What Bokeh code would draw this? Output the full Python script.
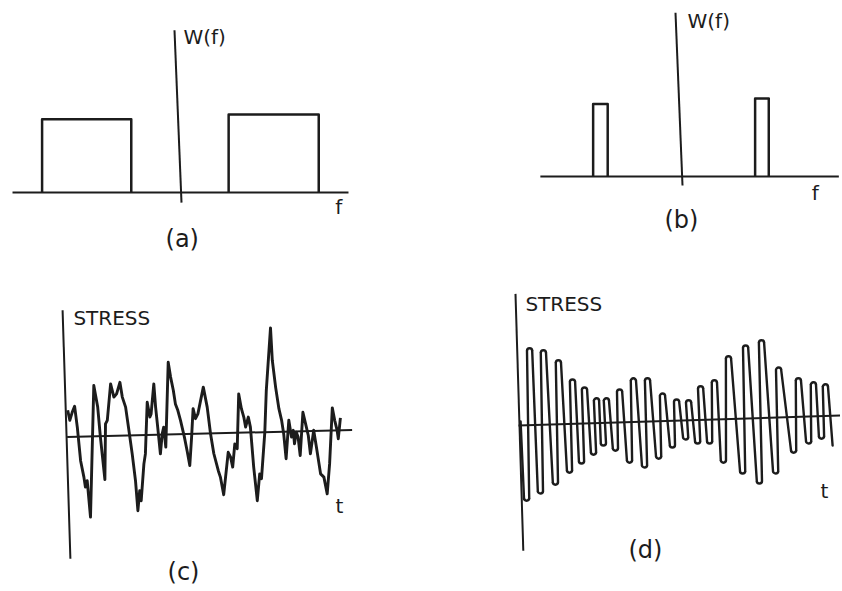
import math
from bokeh.plotting import figure
from bokeh.layouts import column, row
from bokeh.models import Range1d
from bokeh.core.properties import value
from bokeh.embed import file_html
from bokeh.resources import INLINE

# ---------------- data ----------------
# (a) wide-band spectrum W(f): band edges and level
a_band_lo = [-1.51, 0.54]
a_band_hi = [-0.53, 1.53]
a_band_level = [0.94, 1.00]

# (b) narrow-band spectrum W(f)
b_band_lo = [-0.96, 0.82]
b_band_hi = [-0.80, 0.97]
b_band_level = [0.93, 1.00]

# (c) wide-band stress history (traced)
c_t = [0.04, 0.11, 0.19, 0.27, 0.36, 0.47, 0.58, 0.63, 0.69, 0.80,
       0.91, 1.04, 1.13, 1.28, 1.30, 1.36, 1.47, 1.58, 1.67, 1.78,
       1.86, 1.97, 2.08, 2.19, 2.30, 2.38, 2.44, 2.49, 2.58, 2.63,
       2.69, 2.78, 2.82, 2.91, 2.97, 3.04, 3.13, 3.19, 3.24, 3.31,
       3.39, 3.47, 3.56, 3.63, 3.71, 3.80, 3.93, 4.02, 4.11, 4.17,
       4.22, 4.30, 4.38, 4.56, 4.69, 4.80, 4.91, 5.06, 5.13, 5.24,
       5.39, 5.47, 5.54, 5.61, 5.69, 5.74, 5.83, 5.91, 5.97, 6.06,
       6.13, 6.24, 6.36, 6.44, 6.50, 6.61, 6.66, 6.80, 6.86, 6.97,
       7.08, 7.17, 7.24, 7.32, 7.41, 7.50, 7.56, 7.60, 7.66, 7.72,
       7.79, 7.88, 7.97, 8.06, 8.13, 8.24, 8.33, 8.47, 8.58, 8.69,
       8.77, 8.86, 8.94, 9.02, 9.06, 9.13]
c_stress = [0.58, 0.33, 0.53, 0.68, 0.16, -0.68, -1.09, -1.34, -1.18, -2.09,
            1.20, 0.66, -0.09, -1.15, 0.24, 0.33, 1.24, 0.91, 0.99, 1.28,
            0.91, 0.66, 0.08, -0.51, -1.18, -1.93, -1.43, -1.68, -0.76, -0.51,
            0.78, 0.41, 0.49, 1.24, 0.66, 0.16, -0.51, -0.01, 0.16, -0.34,
            1.78, 1.41, 1.08, 0.74, 0.58, 0.33, -0.09, -0.43, -0.80, -0.09,
            0.62, 0.37, 0.49, 1.16, 0.66, 0.00, -0.50, -0.93, -1.09, -1.53,
            -0.47, -0.59, -0.84, -0.26, -0.38, 0.99, 0.62, 0.41, 0.16, 0.41,
            0.16, -0.84, -1.68, -1.01, -1.13, 0.03, 1.08, 2.64, 1.83, 1.16,
            0.62, 0.33, -0.01, -0.63, 0.33, -0.09, 0.08, -0.26, 0.03, -0.09,
            -0.55, 0.53, 0.24, -0.05, -0.51, 0.08, -0.34, -1.01, -1.09, -1.51,
            -0.76, 0.64, 0.33, 0.08, -0.13, 0.39]

# (d) narrow-band stress history: start, successive extremes (troughs / peaks), end
d_t = [0.07, 0.27, 0.37, 0.73, 0.83, 1.23, 1.33, 1.70, 1.80, 2.10, 2.20,
       2.50, 2.60, 2.83, 2.93, 3.23, 3.37, 3.70, 3.83, 4.20, 4.30,
       4.67, 4.80, 5.13, 5.27, 5.57, 5.67, 5.97, 6.07, 6.37, 6.53,
       6.83, 7.00, 7.47, 7.57, 8.03, 8.10, 8.57, 8.67, 9.17, 9.33,
       9.67, 9.83, 10.10, 10.23, 10.47]
d_stress = [0.00, -1.98, 1.83, -1.80, 1.78, -1.58, 1.53, -1.28, 1.05, -1.05, 0.85,
            -0.83, 0.58, -0.60, 0.58, -0.73, 0.80, -1.03, 1.08, -1.15, 1.08,
            -0.93, 0.70, -0.65, 0.55, -0.45, 0.53, -0.55, 0.88, -0.55, 1.03,
            -1.03, 1.63, -1.30, 1.90, -1.55, 2.03, -1.30, 1.35, -0.78, 1.08,
            -0.55, 0.98, -0.43, 0.93, -0.60]

panel_labels = ["(a)", "(b)", "(c)", "(d)"]

# ---------------- style ----------------
INK = "#1c1c1c"
FONT = value("DejaVu Sans")


def panel(left, top, w, h, ox, oy, sx, sy):
    """Figure whose data origin sits at page pixel (ox, oy) with sx, sy px per unit."""
    x0 = (left - ox) / sx
    x1 = (left + w - ox) / sx
    y0 = (oy - (top + h)) / sy
    y1 = (oy - top) / sy
    p = figure(width=w, height=h, x_range=Range1d(x0, x1), y_range=Range1d(y0, y1),
               output_backend="svg", toolbar_location=None,
               x_axis_location=None, y_axis_location=None,
               min_border=0, outline_line_color=None,
               background_fill_color="white", border_fill_color="white")
    p.grid.grid_line_color = None
    p.title.visible = False
    return p


def label(p, x, y, txt, size, align="center"):
    p.text(x=[x], y=[y], text=[txt], text_font=FONT, text_font_size=size,
           text_align=align, text_baseline="middle", text_color=INK)


TOP_H = 265
BOT_H = 324
COL_W = 420

# ---------------- (a) ----------------
pa = panel(0, 0, COL_W, TOP_H, 179, 192, 91, 78)
pa.segment(x0=[-1.835], y0=[0], x1=[1.857], y1=[0], line_color=INK, line_width=2)
pa.segment(x0=[-0.055], y0=[2.08], x1=[0.022], y1=[-0.13], line_color=INK, line_width=2)
pa.multi_line(xs=[[lo, lo, hi, hi] for lo, hi in zip(a_band_lo, a_band_hi)],
              ys=[[0, v, v, 0] for v in a_band_level],
              line_color=INK, line_width=2.5, line_join="round")
label(pa, 0.044, 2.0, "W(f)", "20px", "left")
label(pa, 1.75, -0.19, "f", "20px")
label(pa, 0.03, -0.59, panel_labels[0], "24px")

# ---------------- (b) ----------------
pb = panel(COL_W, 0, COL_W, TOP_H, 680, 176, 91, 78)
pb.segment(x0=[-1.54], y0=[0], x1=[1.74], y1=[0], line_color=INK, line_width=2)
pb.segment(x0=[-0.055], y0=[2.10], x1=[0.022], y1=[-0.115], line_color=INK, line_width=2)
pb.multi_line(xs=[[lo, lo, hi, hi] for lo, hi in zip(b_band_lo, b_band_hi)],
              ys=[[0, v, v, 0] for v in b_band_level],
              line_color=INK, line_width=2.5, line_join="round")
label(pb, 0.077, 1.99, "W(f)", "20px", "left")
label(pb, 1.48, -0.21, "f", "20px")
label(pb, 0.01, -0.56, panel_labels[1], "24px")

# ---------------- (c) ----------------
pc = panel(0, TOP_H, COL_W, BOT_H, 66, 433, 30, 40)
pc.segment(x0=[0.02], y0=[-0.09], x1=[9.52], y1=[0.09], line_color=INK, line_width=2)
pc.segment(x0=[-0.13], y0=[3.08], x1=[0.13], y1=[-3.13], line_color=INK, line_width=2)
pc.line(c_t, c_stress, line_color=INK, line_width=2.9, line_join="round")
label(pc, 0.23, 2.89, "STRESS", "20px", "left")
label(pc, 9.1, -1.8, "t", "20px")
label(pc, 3.9, -3.45, panel_labels[2], "24px")

# ---------------- (d) ----------------
D_SX, D_SY = 30, 40
pd = panel(COL_W, TOP_H, COL_W, BOT_H, 518, 421, D_SX, D_SY)
pd.segment(x0=[0.0], y0=[-0.10], x1=[10.8], y1=[0.15], line_color=INK, line_width=2)
pd.segment(x0=[-0.10], y0=[3.19], x1=[0.16], y1=[-3.23], line_color=INK, line_width=2)

# pen trace: rounded turn at every extreme, straight strokes between them
TURN = 2.6                      # turning radius of the pen loops, px
rx, ry = TURN / D_SX, TURN / D_SY
n = len(d_t)
kind = ["end" if i in (0, n - 1) else ("peak" if d_stress[i] > 0 else "trough")
        for i in range(n)]


def stroke_end(i, side):
    x, y = d_t[i], d_stress[i]
    if kind[i] == "end":
        return x, y
    dy = -ry if kind[i] == "peak" else ry
    return x + side * rx, y + dy


sx0, sy0, sx1, sy1 = [], [], [], []
for i in range(n - 1):
    a = stroke_end(i, +1)
    b = stroke_end(i + 1, -1)
    sx0.append(a[0]); sy0.append(a[1]); sx1.append(b[0]); sy1.append(b[1])
pd.segment(x0=sx0, y0=sy0, x1=sx1, y1=sy1, line_color=INK, line_width=2.4, line_cap="round")

ext = [i for i in range(n) if kind[i] != "end"]
pd.arc(x=[d_t[i] for i in ext],
       y=[d_stress[i] + (-ry if kind[i] == "peak" else ry) for i in ext],
       radius=TURN, radius_units="screen",
       start_angle=[0 if kind[i] == "peak" else math.pi for i in ext],
       end_angle=[math.pi if kind[i] == "peak" else 2 * math.pi for i in ext],
       line_color=INK, line_width=2.4)

label(pd, 0.23, 2.93, "STRESS", "20px", "left")
label(pd, 10.2, -1.73, "t", "20px")
label(pd, 4.23, -3.2, panel_labels[3], "24px")

layout = column(row(pa, pb), row(pc, pd))
open("out.html", "w").write(file_html(layout, INLINE))
